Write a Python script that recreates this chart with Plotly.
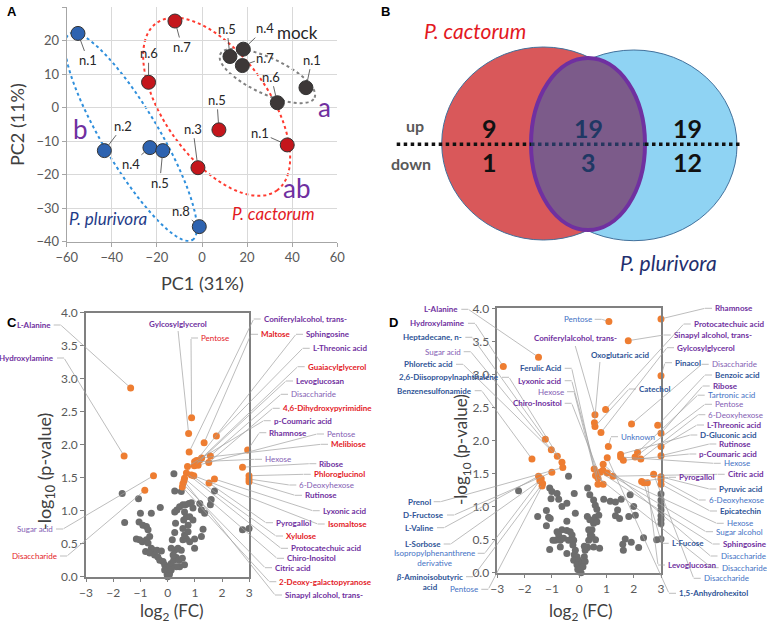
import math
import plotly.graph_objects as go

W, H = 767, 624

# ---------------- Panel A: PCA scores ----------------
pluri_x = [-55.0, -43.3, -23.1, -17.4, -1.2]
pluri_y = [22.2, -12.8, -11.9, -12.8, -35.5]
pluri_lab = ["n.1", "n.2", "n.4", "n.5", "n.8"]
cact_x = [-12.0, -23.7, 7.5, -1.8, 37.8]
cact_y = [25.9, 7.6, -6.6, -17.9, -11.1]
cact_lab = ["n.7", "n.6", "n.5", "n.3", "n.1"]
mock_x = [12.4, 18.3, 17.9, 33.4, 46.1]
mock_y = [15.3, 17.5, 12.6, 1.5, 6.0]
mock_lab = ["n.5", "n.4", "n.7", "n.6", "n.1"]

# ---------------- Panel B: Venn counts ----------------
venn_up = [9, 19, 19]      # P. cactorum only, shared, P. plurivora only
venn_down = [1, 3, 12]

# ---------------- Panel C: volcano P. cactorum ----------------
c_gray_x = [-1.67, -1.07, -1.58, -1.0, -0.6, -0.27, -1.05, -0.91, -0.78, -0.72, -1.15, -1.03, -0.93, -0.78,
            -0.72, -0.66, -0.81, -0.6, -0.54, -0.39, -0.23, -0.66, -0.48, -0.36, -0.29, -0.17, -0.11, -0.05,
            0.01, -0.02, 0.07, 0.13, 0.22, 0.32, 0.42, 0.54, 0.62, 0.2, 0.26, 0.13, 0.17, 0.38, 0.5, 0.56,
            0.69, 0.99, 0.26, 0.29, 0.26, 0.34, 0.44, 0.56, 0.66, 0.78, 0.87, 0.93, 0.62, 0.69, 0.81, 0.93,
            0.59, 0.75, 0.56, 0.62, 0.75, 0.81, 0.99, 1.24, 1.3, 1.18, 1.24, 1.36, 1.57, 1.6, 1.72, 0.23,
            0.26, 0.5, 2.75, 2.99, 0.44, 0.32, 0.13, -0.11, 0.07, 0.0, 0.05]
c_gray_y = [1.26, 1.18, 0.82, 0.96, 0.96, 1.05, 0.83, 0.78, 0.76, 0.71, 0.57, 0.56, 0.53, 0.56,
            0.51, 0.61, 0.38, 0.43, 0.4, 0.4, 0.39, 0.36, 0.33, 0.3, 0.25, 0.23, 0.18, 0.13,
            0.08, 0.03, 0.15, 0.2, 0.25, 0.29, 0.25, 0.28, 0.18, 0.33, 0.4, 0.43, 0.56, 0.43, 0.4, 0.56,
            0.57, 0.57, 0.67, 0.81, 0.98, 1.01, 1.06, 1.09, 1.09, 1.11, 1.12, 1.04, 0.98, 0.91, 0.91, 0.86,
            0.86, 0.78, 0.73, 0.63, 0.68, 0.53, 0.43, 0.61, 0.72, 1.11, 1.01, 0.96, 1.09, 1.17, 1.3, 1.56,
            1.3, 1.29, 0.71, 0.73, 0.15, 0.15, 0.1, 0.1, 0.05, 0.0, 0.02]

c_sig_names = ["L-Alanine", "Hydroxylamine", "Sugar acid", "Disaccharide", "Gylcosylglycerol", "Pentose",
               "Coniferylalcohol, trans-", "Maltose", "Sphingosine", "L-Threonic acid", "Guaiacylglycerol",
               "Levoglucosan", "Disaccharide", "4,6-Dihydroxypyrimidine", "p-Coumaric acid", "Rhamnose",
               "Pentose", "Melibiose", "Hexose", "Ribose", "Phloroglucinol", "6-Deoxyhexose", "Rutinose",
               "Lyxonic acid", "Pyrogallol", "Isomaltose", "Xylulose", "Protocatechuic acid", "Chiro-Inositol",
               "Citric acid", "2-Deoxy-galactopyranose", "Sinapyl alcohol, trans-"]
c_sig_cls = ["pb", "pb", "lp", "rn", "pb", "rn", "pb", "rb", "pb", "pb", "rb", "pb", "lp", "rb", "pb", "pb",
             "lp", "rb", "lp", "pb", "rb", "lp", "pb", "pb", "pb", "rb", "rb", "pb", "pb", "pb", "rb", "pb"]
c_sig_x = [-1.36, -1.6, -0.52, -0.84, 0.77, 0.88, 0.79, 1.34, 1.06, 1.79, 1.18, 0.98, 1.57, 1.51, 0.73, 2.94,
           1.12, 1.25, 0.99, 2.75, 2.99, 2.99, 2.99, 1.72, 1.52, 0.96, 0.87, 0.69, 0.62, 0.56, 0.54, 0.6]
c_sig_y = [2.86, 1.83, 1.53, 1.31, 2.17, 2.41, 1.89, 2.03, 1.76, 2.13, 1.77, 1.68, 1.83, 1.73, 1.67, 1.92,
           1.69, 1.8, 1.74, 1.66, 1.53, 1.48, 1.44, 1.48, 1.42, 1.53, 1.54, 1.57, 1.49, 1.41, 1.36, 1.45]

# ---------------- Panel D: volcano P. plurivora ----------------
d_gray_x = [-2.22, -1.08, -1.0, -0.81, -1.03, -0.75, -0.18, -0.39, -1.52, -1.2, -1.12, -1.06, -1.2, -0.63,
            -0.45, -0.14, -0.45, -0.63, -0.81, -0.75, -0.87, -0.96, -0.69, -0.57, -0.45, -0.33, -0.26, -0.39,
            -0.69, -1.08, -0.2, -0.23, -0.14, -0.45, -0.18, -0.08, -0.2, -0.02, -0.08, 0.04, 0.1, 0.19, 0.22,
            0.29, 0.35, 0.41, 0.35, 0.47, 0.53, 0.65, 0.59, 0.72, 0.65, 0.31, 0.39, 0.53, 0.59, 0.3, 0.39,
            0.47, 0.6, 0.53, 0.31, 0.19, 0.75, 0.22, 0.14, 0.02, 0.9, 1.14, 1.33, 1.54, 1.33, 1.48, 1.41,
            1.82, 1.87, 2.0, 2.06, 1.69, 1.6, 1.62, 1.91, 2.18, 2.36, 2.84, 3.0, 3.0, 3.0, 3.0, 3.0, 3.0,
            3.0, 3.0, -0.05, 0.07]
d_gray_y = [1.24, 1.28, 1.23, 1.2, 1.12, 1.11, 1.2, 1.46, 0.85, 0.94, 0.84, 0.82, 0.71, 1.0,
            1.05, 0.9, 0.78, 0.65, 0.62, 0.57, 0.49, 0.49, 0.49, 0.52, 0.64, 0.62, 0.57, 0.49,
            0.39, 0.35, 0.49, 0.42, 0.34, 0.29, 0.27, 0.24, 0.19, 0.19, 0.12, 0.07, 0.14, 0.24, 0.34,
            0.39, 0.49, 0.57, 0.65, 0.65, 0.75, 0.77, 0.84, 0.87, 0.96, 1.28, 1.18, 1.1, 1.02, 0.85, 0.8,
            0.55, 0.5, 0.39, 0.38, 0.4, 0.37, 0.17, 0.09, 0.03, 1.11, 1.08, 1.07, 1.11, 0.86, 0.82, 0.95,
            0.85, 1.18, 1.0, 0.87, 0.51, 0.43, 0.34, 0.46, 0.38, 0.53, 0.5, 0.51, 1.19, 1.1, 1.02, 0.95,
            0.86, 0.8, 0.74, 0.05, 0.0]

d_sig_names = ["L-Alanine", "Hydroxylamine", "Heptadecane, n-", "Sugar acid", "Phloretic acid",
               "2,6-Diisopropylnaphthalene", "Benzenesulfonamide", "Prenol", "D-Fructose", "L-Valine",
               "L-Sorbose", "Isopropylphenanthrene<br>derivative", "<i>β</i>-Aminoisobutyric<br>acid", "Pentose",
               "Pentose", "Coniferylalcohol, trans-", "Sinapyl alcohol, trans-", "Rhamnose", "Pinacol",
               "Protocatechuic acid", "Oxoglutaric acid", "Catechol", "Gylcosylglycerol", "Disaccharide",
               "Benzoic acid", "Ribose", "L-Threonic acid", "Rutinose", "Unknown", "1,5-Anhydrohexitol",
               "D-Gluconic acid", "Hexose", "p-Coumaric acid", "Pentose", "Tartronic acid", "6-Deoxyhexose",
               "Disaccharide", "Ferulic Acid", "Sphingosine", "Hexose", "Citric acid", "Disaccharide",
               "Pyruvic acid", "6-Deoxyhexose", "Epicatechin", "Lyxonic acid", "Chiro-Inositol", "Hexose",
               "Pyrogallol", "L-Fucose", "Levoglucosan", "Sugar alcohol", "Disaccharide"]
d_sig_cls = ["pb", "pb", "bb", "lp", "bb", "bb", "bb", "bb", "bb", "bb", "bb", "lb", "bb", "lb",
             "lb", "pb", "pb", "pb", "bb", "pb", "bb", "bb", "pb", "lp", "bb", "pb", "pb", "pb", "lb", "bb",
             "bb", "lb", "pb", "lp", "lb", "lp", "lb", "bb", "pb", "lb", "pb", "lb", "bb", "lb", "bb",
             "pb", "pb", "lp", "pb", "bb", "pb", "lb", "lb"]
d_sig_x = [-1.49, -2.78, -1.24, -1.02, -0.8, -0.63, -1.73, -0.6, -1.0, -1.49, -1.44, -1.39, -1.34, -1.36,
           1.09, 0.58, 1.8, 3.0, 3.0, 0.97, 0.56, 0.58, 0.8, 1.92, 2.88, 3.0, 3.0, 3.0, 1.07, 1.03,
           1.52, 1.52, 1.62, 2.05, 2.14, 2.26, 0.88, 0.55, 0.77, 1.03, 1.24, 2.73, 3.0, 3.0, 3.0,
           0.69, 0.88, 0.69, 2.29, 2.37, 2.5, 0.87, 0.6]
d_sig_y = [3.26, 3.12, 2.02, 1.86, 1.76, 1.67, 1.72, 1.59, 1.52, 1.46, 1.39, 1.42, 1.35, 1.31,
           3.8, 2.39, 3.51, 3.84, 2.98, 2.47, 2.27, 2.21, 2.12, 2.25, 2.23, 2.11, 1.91, 1.77, 1.91, 1.74,
           1.79, 1.75, 1.7, 1.75, 1.82, 1.72, 1.64, 1.57, 1.52, 1.51, 1.46, 1.49, 1.45, 1.41, 1.34,
           1.43, 1.34, 1.34, 1.38, 1.36, 1.36, 1.55, 1.47]

# ================= layout geometry (pixels) =================
A_BOX = (66.7, 337.3, 241.7, 7.3, (-60, 60), (-40, 30))     # left, right, bottom, top, xrange, yrange
C_BOX = (86.0, 249.3, 576.7, 312.7, (-3, 3), (0, 4))
D_BOX = (497.3, 661.0, 572.7, 308.3, (-3, 3), (0, 4))

# label positions in pixels (x, y, anchor[, tail])
c_lab_pos = [(51.7, 325, 'r'), (55, 358, 'r'), (54, 529, 'r'), (58, 556, 'r'), (178, 324, 'c'), (200, 338, 'l'),
             (262.7, 319, 'l'), (260, 334.3, 'l'), (305, 334.3, 'l'), (311.7, 348.3, 'l'), (306.7, 366.7, 'l'),
             (295, 381, 'l'), (290, 394.3, 'l'), (281.7, 408.3, 'l'), (272.7, 420.7, 'l'), (268.3, 432.7, 'l'),
             (326, 434, 'l'), (330, 444.3, 'l'), (264, 459.3, 'l'), (318.3, 463.7, 'l'), (312.7, 474.3, 'l'),
             (298.3, 485, 'l'), (304, 495.3, 'l'), (321.7, 510.7, 'l'), (275, 522.7, 'l'), (326.7, 524, 'l'),
             (285, 536, 'l'), (290, 548.3, 'l'), (286, 558.3, 'l'), (274, 567.7, 'l'), (278.3, 581.7, 'l'),
             (284, 595, 'l')]
d_lab_pos = [(459.3, 309.3, 'r'), (466, 323.3, 'r'), (463.3, 337.3, 'r'), (461.7, 351.7, 'r'), (454, 364.3, 'r'),
             (500, 377.3, 'r'), (472.7, 390.7, 'r'), (431.7, 501.7, 'r'), (445, 515, 'r'), (435, 527.7, 'r'),
             (441.7, 544, 'r'), (475.7, 553.3, 'r'), (464, 576.7, 'r'), (479.3, 589.3, 'r'),
             (592.7, 319.3, 'r'), (532.7, 338.3, 'l', (575, 345)), (672.7, 335, 'l'), (714, 308.3, 'l'),
             (674, 362.7, 'l'), (692.7, 324, 'l'), (590, 355, 'l', (600, 361)), (638, 389, 'l'),
             (676, 347.7, 'l'), (710.7, 364.3, 'l'), (714, 375, 'l'), (711.7, 386, 'l'), (706, 425, 'l'),
             (718.3, 444, 'l'), (620, 436.7, 'l'), (678, 593.3, 'l'), (699.3, 435, 'l'), (722.7, 463.3, 'l'),
             (698.3, 454, 'l'), (714, 404.3, 'l'), (706.7, 395.2, 'l'), (707.3, 414.7, 'l'), (719.5, 556, 'l'),
             (562.7, 368.3, 'r'), (721.7, 544, 'l'), (725.7, 523.3, 'l'), (726.7, 474.3, 'l'),
             (702.7, 578.3, 'l'), (718.3, 489, 'l'), (707.7, 500, 'l'), (719, 511, 'l'),
             (562.7, 380.7, 'r'), (562.7, 403.3, 'r'), (565, 391.7, 'r'), (678, 477.3, 'l'),
             (670.7, 543.3, 'l'), (667, 565, 'l'), (715, 531.7, 'l'), (720.7, 567.7, 'l')]

STY = {"pb": ("#7030a0", True), "rb": ("#e3191f", True), "lp": ("#8460b4", False), "rn": ("#e3191f", False),
       "bb": ("#2f5597", True), "lb": ("#4472c4", False)}

FONT = "Lato, Open Sans, sans-serif"
LFONT = "Lato, sans-serif"
LSIZE = 8


def px(x):
    return x / W


def py(y):
    return 1 - y / H


def to_data(box, X, Y):
    X0, X1, Y0, Y1, xr, yr = box
    return (xr[0] + (X - X0) / (X1 - X0) * (xr[1] - xr[0]),
            yr[0] + (Y0 - Y) / (Y0 - Y1) * (yr[1] - yr[0]))


def text_ann(t, x, y, size, color, family=FONT, xanchor="center", yanchor="middle", angle=0):
    return dict(x=px(x), y=py(y), xref="paper", yref="paper", text=t, showarrow=False, xanchor=xanchor,
                yanchor=yanchor, textangle=angle, font=dict(family=family, size=size, color=color))


fig = go.Figure()
annotations = []
shapes = []

# ---------------- Panel A ----------------
for xs, ys, col in [(pluri_x, pluri_y, "#2e63b0"), (cact_x, cact_y, "#c4161c"), (mock_x, mock_y, "#3d3838")]:
    fig.add_trace(go.Scatter(x=xs, y=ys, mode="markers", xaxis="x", yaxis="y", cliponaxis=False,
                             marker=dict(size=14, color=col, line=dict(color="#333333", width=1)),
                             hoverinfo="skip"))

offs = {"pl": [(10, 27), (19, -25), (-19, 16), (-3, 32), (-18, -16)],
        "ca": [(7, 26), (0, -29), (-2, -30), (-5, -39), (-27, -12)],
        "mo": [(-3, -28), (22, -21), (23, -8), (-6, -26), (6, -28)]}
for key, xs, ys, labs in [("pl", pluri_x, pluri_y, pluri_lab), ("ca", cact_x, cact_y, cact_lab),
                          ("mo", mock_x, mock_y, mock_lab)]:
    for (x, y, t, (ox, oy)) in zip(xs, ys, labs, offs[key]):
        annotations.append(dict(x=x, y=y, xref="x", yref="y", text=t, showarrow=True, ax=ox, ay=oy,
                                arrowhead=0, arrowwidth=0.8, arrowcolor="#404040", standoff=7,
                                font=dict(family=FONT, size=13, color="#262626")))


def ellipse_path(cx, cy, ux, uy, vx, vy, n=140):
    pts = []
    for i in range(n + 1):
        t = 2 * math.pi * i / n
        pts.append((cx + ux * math.cos(t) + vx * math.sin(t), cy + uy * math.cos(t) + vy * math.sin(t)))
    return "M " + " L ".join(f"{a:.3f},{b:.3f}" for a, b in pts) + " Z"


for (cx, cy, ux, uy, vx, vy, col) in [(-31.5, -8.7, 27.2, -30.8, 10.7, 4.27, "#2f8fdc"),
                                      (6.5, 0.3, 26.7, -25.0, 18.7, 9.1, "#ff3b30"),
                                      (29.0, 9.5, 20.9, -6.5, 3.35, 4.87, "#808080")]:
    shapes.append(dict(type="path", xref="x", yref="y", path=ellipse_path(cx, cy, ux, uy, vx, vy),
                       line=dict(color=col, width=2, dash="dot"), layer="below"))

for (t, x, y, sz, col, it) in [("mock", 42.5, 22.4, 17, "#262626", False), ("a", 54.5, 0.15, 26, "#7030a0", False),
                               ("ab", 42, -23.9, 26, "#7030a0", False), ("b", -54.1, -6.4, 26, "#7030a0", False),
                               ("P. plurivora", -41.6, -33.2, 17, "#1f3c88", True),
                               ("P. cactorum", 31.9, -31.5, 17, "#e3191f", True)]:
    annotations.append(dict(x=x, y=y, xref="x", yref="y", text=f"<i>{t}</i>" if it else t, showarrow=False,
                            xanchor="center", yanchor="middle", font=dict(family=FONT, size=sz, color=col)))

# ---------------- Panel B (Venn) ----------------
def circ(x0, x1, y0, y1, fill, line, lw):
    shapes.append(dict(type="circle", xref="paper", yref="paper", x0=px(x0), x1=px(x1), y0=py(y1), y1=py(y0),
                       fillcolor=fill, line=dict(color=line, width=lw), layer="below"))


circ(441.7, 645, 47, 240, "#d9585a", "#41719c", 1)
circ(530.7, 737, 50, 240.7, "#8fd3f3", "#41719c", 1)
circ(531, 645, 58, 230, "#7c5b8a", "#7030a0", 4)
for (x0, x1, col) in [(396.7, 531, "#111111"), (531, 645, "#26365e"), (645, 741.7, "#111111")]:
    shapes.append(dict(type="line", xref="paper", yref="paper", x0=px(x0), x1=px(x1), y0=py(144.3), y1=py(144.3),
                       line=dict(color=col, width=3.5, dash="dot"), layer="below"))

venn_cols = ["#111111", "#1f3864", "#111111"]
venn_xs = [489, 588, 687]
for v_up, v_dn, col, xx in zip(venn_up, venn_down, venn_cols, venn_xs):
    annotations.append(text_ann(f"<b>{v_up}</b>", xx, 128, 25, col))
    annotations.append(text_ann(f"<b>{v_dn}</b>", xx, 162, 25, col))
annotations.append(text_ann("<b>up</b>", 415, 126, 16, "#595959"))
annotations.append(text_ann("<b>down</b>", 411, 164, 16, "#595959"))
annotations.append(text_ann("<i>P. cactorum</i>", 475, 30, 21, "#e3191f"))
annotations.append(text_ann("<i>P. plurivora</i>", 668, 262, 21, "#1f2f6e"))

# ---------------- Panels C and D ----------------
for (gx, gy, sx, sy, xa, ya) in [(c_gray_x, c_gray_y, c_sig_x, c_sig_y, "x3", "y3"),
                                 (d_gray_x, d_gray_y, d_sig_x, d_sig_y, "x4", "y4")]:
    fig.add_trace(go.Scatter(x=gx, y=gy, mode="markers", xaxis=xa, yaxis=ya, cliponaxis=False,
                             marker=dict(size=7, color="#6d6d6d"), hoverinfo="skip"))
    fig.add_trace(go.Scatter(x=sx, y=sy, mode="markers", xaxis=xa, yaxis=ya, cliponaxis=False,
                             marker=dict(size=7, color="#ee7d31"), hoverinfo="skip"))


def add_labels(xs, ys, names, cls, pos, box, xa, ya):
    for x, y, nm, c, p in zip(xs, ys, names, cls, pos):
        lx, ly, anc = p[0], p[1], p[2]
        tail = p[3] if len(p) > 3 else None
        col, bold = STY[c]
        txt = f"<b>{nm}</b>" if bold else nm
        xanchor = {"l": "left", "r": "right", "c": "center"}[anc]
        if "<br>" in nm:
            a = text_ann(txt, lx, ly - 6, LSIZE, col, LFONT, xanchor, "top")
            a["align"] = "center"
        else:
            a = text_ann(txt, lx, ly, LSIZE, col, LFONT, xanchor, "middle")
        a["borderpad"] = 0
        annotations.append(a)
        if tail is None:
            if anc == "c":
                tail = (lx, ly + 6)
            else:
                s0, s1 = (lx - 2, lx - 9) if anc == "l" else (lx + 2, lx + 9)
                shapes.append(dict(type="line", xref="paper", yref="paper", x0=px(s0), x1=px(s1),
                                   y0=py(ly), y1=py(ly), line=dict(color="#a0a0a0", width=0.7)))
                tail = (s1, ly)
        tx, ty = to_data(box, *tail)
        annotations.append(dict(x=x, y=y, xref=xa, yref=ya, ax=tx, ay=ty, axref=xa, ayref=ya, text=" ",
                                showarrow=True, arrowhead=0, arrowwidth=0.7, arrowcolor="#a0a0a0",
                                standoff=3, borderpad=0, font=dict(size=1)))


add_labels(c_sig_x, c_sig_y, c_sig_names, c_sig_cls, c_lab_pos, C_BOX, "x3", "y3")
add_labels(d_sig_x, d_sig_y, d_sig_names, d_sig_cls, d_lab_pos, D_BOX, "x4", "y4")

# axis titles
for (t, x, y, ang, sz) in [("PC1 (31%)", 202, 283, 0, 18), ("PC2 (11%)", 17, 125, -90, 18),
                           ("log<sub>2</sub> (FC)", 172, 612, 0, 17),
                           ("-log<sub>10</sub> (p-value)", 45, 472, -90, 18),
                           ("log<sub>2</sub> (FC)", 581, 612, 0, 17),
                           ("-log<sub>10</sub> (p-value)", 462, 450, -90, 17)]:
    annotations.append(text_ann(t, x, y, sz, "#404040", angle=ang))

for (t, x, y) in [("A", 12, 11), ("B", 385, 11), ("C", 12, 322), ("D", 393, 322)]:
    annotations.append(text_ann(f"<b>{t}</b>", x, y, 13, "#000000", family="Liberation Sans, Arial"))


def dom(box):
    X0, X1, Y0, Y1 = box[:4]
    return [px(X0), px(X1)], [py(Y0), py(Y1)]


ax_a_x, ax_a_y = dom(A_BOX)
ax_c_x, ax_c_y = dom(C_BOX)
ax_d_x, ax_d_y = dom(D_BOX)

tickA = dict(family=FONT, size=13, color="#595959")
tickC = dict(family=FONT, size=12, color="#595959")

volc_x = dict(range=[-3, 3], dtick=1, tick0=-3, showgrid=False, zeroline=False, showline=True, mirror=True,
              linecolor="#808080", linewidth=1.5, ticks="outside", ticklen=4, tickcolor="#808080",
              tickfont=tickC, automargin=False)
volc_y = dict(range=[0, 4], dtick=0.5, tick0=0, tickformat=".1f", showgrid=False, zeroline=False, showline=True,
              mirror=True, linecolor="#808080", linewidth=1.5, ticks="outside", ticklen=4, tickcolor="#808080",
              tickfont=tickC, automargin=False)

fig.update_layout(
    width=W, height=H, margin=dict(l=0, r=0, t=0, b=0), showlegend=False,
    paper_bgcolor="white", plot_bgcolor="rgba(0,0,0,0)",
    xaxis=dict(domain=ax_a_x, anchor="y", range=[-60, 60], dtick=20, tick0=-60, showgrid=True,
               gridcolor="#d9d9d9", zeroline=False, showline=True, linecolor="#a6a6a6", ticks="outside",
               ticklen=4, tickcolor="#a6a6a6", tickfont=tickA, automargin=False, mirror=False),
    yaxis=dict(domain=ax_a_y, anchor="x", range=[-40, 30], dtick=10, tick0=-40, showgrid=True,
               gridcolor="#d9d9d9", zeroline=False, showline=True, linecolor="#a6a6a6", ticks="outside",
               ticklen=4, tickcolor="#a6a6a6", tickfont=tickA, automargin=False),
    xaxis3=dict(domain=ax_c_x, anchor="y3", **volc_x),
    yaxis3=dict(domain=ax_c_y, anchor="x3", **volc_y),
    xaxis4=dict(domain=ax_d_x, anchor="y4", **volc_x),
    yaxis4=dict(domain=ax_d_y, anchor="x4", **volc_y),
    annotations=annotations, shapes=shapes,
    font=dict(family=FONT),
)

fig.write_html("out.html", config={"displayModeBar": False},
               post_script="document.body.style.margin='0px';document.body.style.padding='0px';")
